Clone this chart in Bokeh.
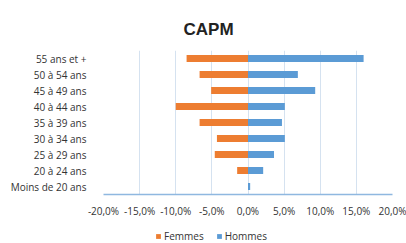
from bokeh.plotting import figure
from bokeh.layouts import column
from bokeh.models import FixedTicker, CustomJSTickFormatter, Legend, LegendItem, ColumnDataSource, FactorRange
from bokeh.embed import file_html
from bokeh.resources import INLINE

categories = ["Moins de 20 ans", "20 à 24 ans", "25 à 29 ans", "30 à 34 ans", "35 à 39 ans",
              "40 à 44 ans", "45 à 49 ans", "50 à 54 ans", "55 ans et +"]
femmes = [0.0, 1.5, 4.6, 4.3, 6.7, 10.0, 5.1, 6.7, 8.5]
hommes = [0.3, 2.1, 3.6, 5.1, 4.7, 5.1, 9.3, 6.9, 16.0]
ticks = [-20, -15, -10, -5, 0, 5, 10, 15, 20]
series_names = ["Femmes", "Hommes"]
series_colors = ["#ED7D31", "#5B9BD5"]

src = ColumnDataSource(dict(
    cat=categories,
    f_left=[-v for v in femmes],
    f_right=[0] * len(femmes),
    h_left=[0] * len(hommes),
    h_right=hommes,
))

p = figure(width=406, height=220, y_range=categories, x_range=(ticks[0], ticks[-1]),
           output_backend="svg", toolbar_location=None,
           min_border_left=103, min_border_right=14, min_border_top=50, min_border_bottom=24)
p.outline_line_color = None
p.background_fill_color = "white"

rf = p.hbar(y="cat", left="f_left", right="f_right", height=0.44, source=src,
            fill_color=series_colors[0], line_color=None)
rh = p.hbar(y="cat", left="h_left", right="h_right", height=0.44, source=src,
            fill_color=series_colors[1], line_color=None)

p.xaxis.ticker = FixedTicker(ticks=ticks)
p.xaxis.formatter = CustomJSTickFormatter(code="return tick.toFixed(1).replace('.', ',') + '%';")
p.xaxis.major_tick_line_color = None
p.xaxis.minor_tick_line_color = None
p.xaxis.axis_line_color = "#8fb8e0"
p.xaxis.axis_line_width = 1.5
p.xaxis.major_label_text_font = "Open Sans"
p.xaxis.major_label_text_font_size = "10px"
p.xaxis.major_label_text_color = "#333333"
p.xaxis.major_label_standoff = 3

p.yaxis.major_tick_line_color = None
p.yaxis.minor_tick_line_color = None
p.yaxis.axis_line_color = None
p.yaxis.major_label_text_font = "Open Sans"
p.yaxis.major_label_text_font_size = "10px"
p.yaxis.major_label_text_color = "#333333"
p.yaxis.major_label_standoff = 11

p.xgrid.grid_line_color = "#d5e2f0"
p.xgrid.ticker = FixedTicker(ticks=ticks)
p.ygrid.grid_line_color = None

p.title.text = "CAPM"
p.title.align = "left"
p.title.offset = 80
p.title.text_font = "Liberation Sans"
p.title.text_font_size = "17px"
p.title.text_font_style = "bold"
p.title.text_color = "#222222"
p.title.standoff = 24

# legend strip below the chart (same borders so the frames line up)
q = figure(width=406, height=23, output_backend="svg", toolbar_location=None,
           y_range=FactorRange(factors=categories), x_range=p.x_range,
           min_border_left=103, min_border_right=14, min_border_top=3, min_border_bottom=0)
q.axis.visible = False
q.grid.grid_line_color = None
q.outline_line_color = None
items = []
for name, col in zip(series_names, series_colors):
    # zero-width bars: only used to carry the legend swatch
    r = q.hbar(y="cat", left="f_right", right="f_right", height=0.4, source=src,
               fill_color=col, line_color=None)
    items.append(LegendItem(label=name, renderers=[r]))
legend = Legend(items=items, orientation="horizontal", location=(52, 0),
                label_text_font="Open Sans", label_text_font_size="10px",
                label_text_color="#333333", glyph_width=6, glyph_height=6,
                padding=0, margin=0, spacing=12, label_standoff=3,
                border_line_color=None, background_fill_alpha=0)
q.add_layout(legend, "center")

layout = column(p, q, spacing=0)
open("out.html", "w").write(file_html(layout, INLINE))
